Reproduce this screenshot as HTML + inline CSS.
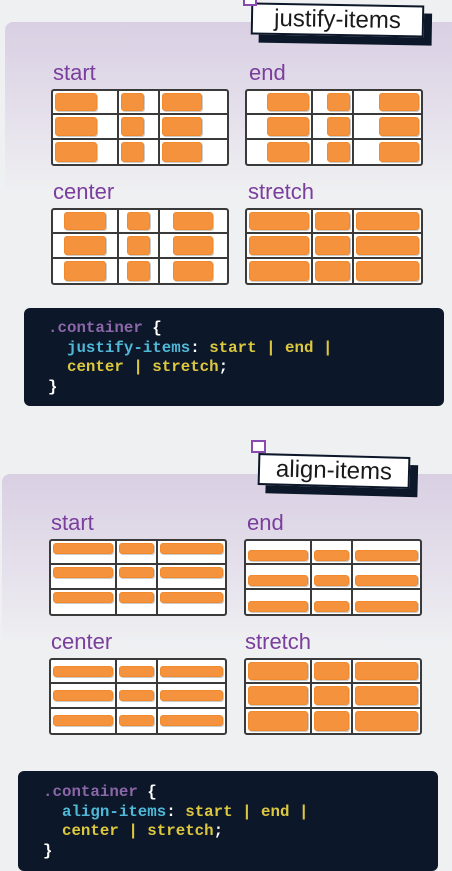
<!DOCTYPE html>
<html><head><style>
*{box-sizing:border-box;margin:0;padding:0}
body{width:452px;height:864px;background:#eff0f2;position:relative;overflow:hidden;font-family:"Liberation Sans",sans-serif}
.panel{position:absolute;border-radius:8px;background:linear-gradient(#d9cfe3,#e6e2ec 60%,#eff0f2)}
.lbl{position:absolute;color:#7a3e9c;font-size:22px;line-height:22px}
.g{position:absolute;width:178px;height:77px;background:#fff;border:2px solid #3a3a3a;border-radius:3px;display:grid;grid-template-columns:68fr 41fr 69fr;grid-template-rows:1fr 1fr 1fr;overflow:hidden}
.c{border-right:2px solid #3a3a3a;border-bottom:2px solid #3a3a3a;display:flex;padding:2px}
.c:nth-child(3n){border-right:none}
.c:nth-child(n+7){border-bottom:none}
.i{background:#f5923e;border:1px solid #f08a2c;border-radius:3px;box-shadow:1px 1px 0 #ccc}
.js .c{align-items:stretch}
.js .c .i{width:42px}
.js .c:nth-child(3n+2) .i{width:23px}
.js .c:nth-child(3n) .i{width:40px}
.jstart .c{justify-content:flex-start}
.jend .c{justify-content:flex-end}
.jcenter .c{justify-content:center}
.jstretch .c .i{width:100%!important}
.al .c{flex-direction:column}
.al .c .i{height:11px}
.astart .c{justify-content:flex-start}
.aend .c{justify-content:flex-end}
.acenter .c{justify-content:center}
.astretch .c .i{height:100%}
.code{position:absolute;background:#0c1729;border-radius:6px;font-family:"Liberation Mono",monospace;font-weight:bold;font-size:15.8px;line-height:19.5px;color:#fff;white-space:pre}
.p{color:#8b66a8}.b{color:#4fb8d6}.y{color:#ddc73e}
.tag{position:absolute;background:#fff;border:2px solid #0c1729;box-shadow:8px 8px 0 #0c1729;font-size:24px;color:#1a1a1a;text-align:center}
.sq{position:absolute;background:#fff;border:2px solid #8a4ab0}
</style></head><body>
<div class="panel" style="left:5px;top:22px;width:460px;height:170px"></div>
<div class="tag" style="left:251px;top:4px;width:173px;height:32px;line-height:28px;transform:rotate(1deg)">justify-items</div>
<div class="sq" style="left:243px;top:-6px;width:14px;height:12px"></div>

<div class="lbl" style="left:53px;top:62px">start</div>
<div class="lbl" style="left:249px;top:62px">end</div>
<div class="lbl" style="left:53px;top:181px">center</div>
<div class="lbl" style="left:248px;top:181px">stretch</div>

<div class="g js jstart" style="left:51px;top:89px"><div class="c"><div class="i"></div></div><div class="c"><div class="i"></div></div><div class="c"><div class="i"></div></div><div class="c"><div class="i"></div></div><div class="c"><div class="i"></div></div><div class="c"><div class="i"></div></div><div class="c"><div class="i"></div></div><div class="c"><div class="i"></div></div><div class="c"><div class="i"></div></div></div>
<div class="g js jend" style="left:245px;top:89px"><div class="c"><div class="i"></div></div><div class="c"><div class="i"></div></div><div class="c"><div class="i"></div></div><div class="c"><div class="i"></div></div><div class="c"><div class="i"></div></div><div class="c"><div class="i"></div></div><div class="c"><div class="i"></div></div><div class="c"><div class="i"></div></div><div class="c"><div class="i"></div></div></div>
<div class="g js jcenter" style="left:51px;top:208px"><div class="c"><div class="i"></div></div><div class="c"><div class="i"></div></div><div class="c"><div class="i"></div></div><div class="c"><div class="i"></div></div><div class="c"><div class="i"></div></div><div class="c"><div class="i"></div></div><div class="c"><div class="i"></div></div><div class="c"><div class="i"></div></div><div class="c"><div class="i"></div></div></div>
<div class="g js jstretch" style="left:245px;top:208px"><div class="c"><div class="i"></div></div><div class="c"><div class="i"></div></div><div class="c"><div class="i"></div></div><div class="c"><div class="i"></div></div><div class="c"><div class="i"></div></div><div class="c"><div class="i"></div></div><div class="c"><div class="i"></div></div><div class="c"><div class="i"></div></div><div class="c"><div class="i"></div></div></div>

<div class="code" style="left:24px;top:308px;width:420px;height:98px;padding:11px 0 0 24px"><span class="p">.container</span> {
  <span class="b">justify-items</span>: <span class="y">start | end |</span>
  <span class="y">center | stretch</span>;
}</div>

<div class="panel" style="left:2px;top:474px;width:460px;height:170px"></div>
<div class="tag" style="left:258px;top:455px;width:152px;height:32px;line-height:28px;transform:rotate(1.5deg)">align-items</div>
<div class="sq" style="left:251px;top:440px;width:15px;height:13px"></div>

<div class="lbl" style="left:51px;top:512px">start</div>
<div class="lbl" style="left:247px;top:512px">end</div>
<div class="lbl" style="left:51px;top:631px">center</div>
<div class="lbl" style="left:245px;top:631px">stretch</div>

<div class="g al astart" style="left:49px;top:539px"><div class="c"><div class="i"></div></div><div class="c"><div class="i"></div></div><div class="c"><div class="i"></div></div><div class="c"><div class="i"></div></div><div class="c"><div class="i"></div></div><div class="c"><div class="i"></div></div><div class="c"><div class="i"></div></div><div class="c"><div class="i"></div></div><div class="c"><div class="i"></div></div></div>
<div class="g al aend" style="left:244px;top:539px"><div class="c"><div class="i"></div></div><div class="c"><div class="i"></div></div><div class="c"><div class="i"></div></div><div class="c"><div class="i"></div></div><div class="c"><div class="i"></div></div><div class="c"><div class="i"></div></div><div class="c"><div class="i"></div></div><div class="c"><div class="i"></div></div><div class="c"><div class="i"></div></div></div>
<div class="g al acenter" style="left:49px;top:658px"><div class="c"><div class="i"></div></div><div class="c"><div class="i"></div></div><div class="c"><div class="i"></div></div><div class="c"><div class="i"></div></div><div class="c"><div class="i"></div></div><div class="c"><div class="i"></div></div><div class="c"><div class="i"></div></div><div class="c"><div class="i"></div></div><div class="c"><div class="i"></div></div></div>
<div class="g al astretch" style="left:244px;top:658px"><div class="c"><div class="i"></div></div><div class="c"><div class="i"></div></div><div class="c"><div class="i"></div></div><div class="c"><div class="i"></div></div><div class="c"><div class="i"></div></div><div class="c"><div class="i"></div></div><div class="c"><div class="i"></div></div><div class="c"><div class="i"></div></div><div class="c"><div class="i"></div></div></div>

<div class="code" style="left:18px;top:771px;width:420px;height:100px;padding:12px 0 0 25px"><span class="p">.container</span> {
  <span class="b">align-items</span>: <span class="y">start | end |</span>
  <span class="y">center | stretch</span>;
}</div>
</body></html>
